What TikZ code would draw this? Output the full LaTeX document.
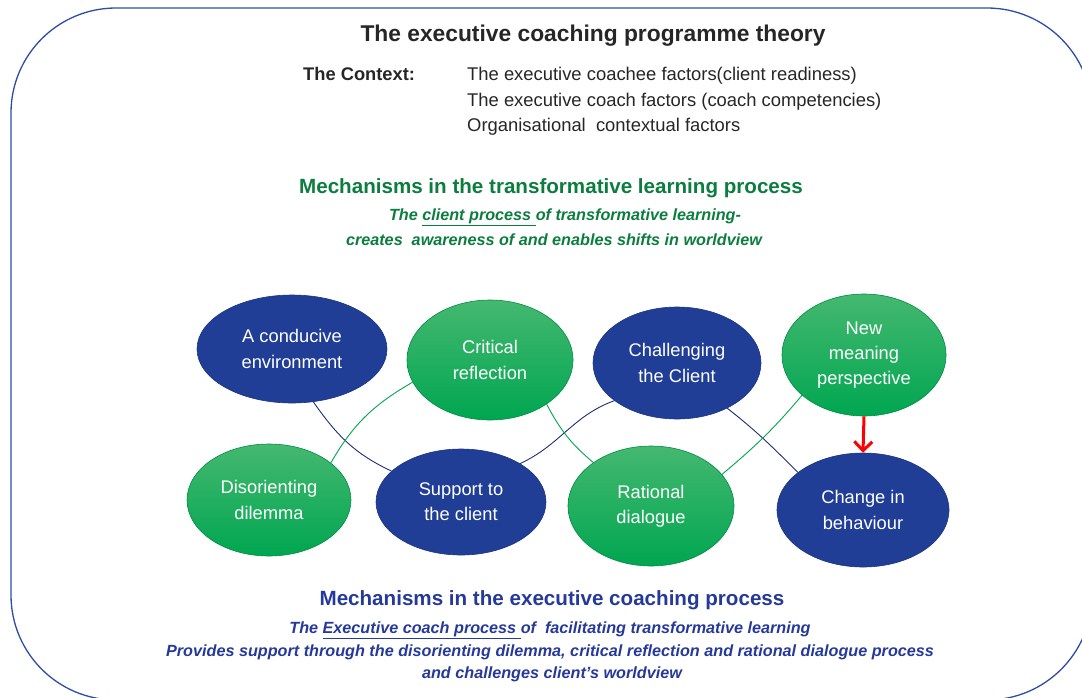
\documentclass[tikz,border=0pt]{standalone}
\usepackage{fontspec}
\setmainfont{Liberation Sans}
\usetikzlibrary{shapes.geometric, arrows.meta}

\definecolor{ecblue}{HTML}{203E96}
\definecolor{ecnavy}{HTML}{1F2E78}
\definecolor{ecgreenhi}{HTML}{45B870}
\definecolor{ecgreen}{HTML}{00A651}
\definecolor{ecgreentxt}{HTML}{0B7D3E}
\definecolor{ecbluetxt}{HTML}{25399A}
\definecolor{ecframe}{HTML}{2D4CA6}
\definecolor{ecink}{HTML}{262626}

\begin{document}
\begin{tikzpicture}[x=1pt, y=1pt,
  bubble/.style={ellipse, inner sep=0pt, text=white, align=center,
    line width=0.6pt, font=\fontsize{18.3}{25.3}\selectfont},
  bluebub/.style={bubble, draw=ecblue!85!black, fill=ecblue},
  greenbub/.style={bubble, draw=ecgreen!85!black, top color=ecgreenhi, bottom color=ecgreen},
  bluelink/.style={draw=ecnavy, line width=0.9pt},
  greenlink/.style={draw=ecgreen, line width=0.9pt},
  plain/.style={inner sep=0pt, anchor=base},
  heading/.style={plain, font=\bfseries\fontsize{20.6}{24}\selectfont},
  subline/.style={plain, font=\bfseries\itshape\fontsize{16.2}{20}\selectfont},
  ctxtext/.style={inner sep=0pt, anchor=base west, text=ecink, font=\fontsize{18.4}{22}\selectfont}]
  \useasboundingbox (0,0) rectangle (1082,-697);

  % outer frame, runs off the right and bottom edges
  \draw[ecframe, line width=1.3pt, rounded corners=105pt] (11,-8) rectangle (1092,-700);

  % header
  \node[plain, text=ecink, font=\bfseries\fontsize{22.8}{27}\selectfont] (title) at (593,-41)
    {The executive coaching programme theory};
  \node[ctxtext, font=\bfseries\fontsize{18.3}{22}\selectfont] (ctx) at (303,-80) {The Context:};
  \node[ctxtext] (ctx1) at (467,-80) {The executive coachee factors(client readiness)};
  \node[ctxtext] (ctx2) at (467,-106) {The executive coach factors (coach competencies)};
  \node[ctxtext] (ctx3) at (467,-131) {Organisational\ \ contextual factors};

  % client process
  \node[heading, text=ecgreentxt] (learnhead) at (551,-193)
    {Mechanisms in the transformative learning process};
  \node[subline, text=ecgreentxt] (learn1) at (565,-220)
    {The \underline{client process\ }of transformative learning-};
  \node[subline, text=ecgreentxt] (learn2) at (554,-245)
    {creates\ \ awareness of and enables shifts in worldview};

  % the eight mechanisms
  \node[bluebub, minimum width=190pt, minimum height=108pt] (envr) at (292,-349) {A conducive\\environment};
  \node[greenbub, minimum width=166pt, minimum height=120pt] (critical) at (490,-360) {Critical\\reflection};
  \node[bluebub, minimum width=168pt, minimum height=112pt] (challenge) at (677,-363) {Challenging\\the Client};
  \node[greenbub, minimum width=164pt, minimum height=122pt] (meaning) at (864,-355) {New\\meaning\\perspective};
  \node[greenbub, minimum width=164pt, minimum height=112pt] (dilemma) at (269,-500) {Disorienting\\dilemma};
  \node[bluebub, minimum width=170pt, minimum height=106pt] (support) at (461,-502) {Support to\\the client};
  \node[greenbub, minimum width=166pt, minimum height=120pt] (rational) at (651,-506) {Rational\\dialogue};
  \node[bluebub, minimum width=172pt, minimum height=114pt] (change) at (863,-510) {Change in\\behaviour};

  % weaving links
  \draw[bluelink] (envr.-68) to[out=-55, in=155] (support.156);
  \draw[greenlink] (dilemma.31) to[out=60, in=-150] (critical.196);
  \draw[bluelink] (support.33) to[out=25, in=-160] (challenge.211);
  \draw[greenlink] (critical.-38) to[out=-62, in=140] (rational.143);
  \draw[bluelink] (challenge.-42) to[out=-38, in=135] (change.150);
  \draw[greenlink] (rational.24) to[out=40, in=-130] (meaning.213);
  \draw[red, line width=3pt, -{Straight Barb[length=9pt, width=18pt]}] (meaning.south) -- (change.north);

  % coach process
  \node[heading, text=ecbluetxt] (coachhead) at (552,-605)
    {Mechanisms in the executive coaching process};
  \node[subline, text=ecbluetxt] (coach1) at (550,-633)
    {The \underline{Executive coach process\ }of\ \ facilitating transformative learning};
  \node[subline, text=ecbluetxt] (coach2) at (550,-656)
    {Provides support through the disorienting dilemma, critical reflection and rational dialogue process};
  \node[subline, text=ecbluetxt] (coach3) at (552,-678)
    {and challenges client’s worldview};
\end{tikzpicture}
\end{document}
